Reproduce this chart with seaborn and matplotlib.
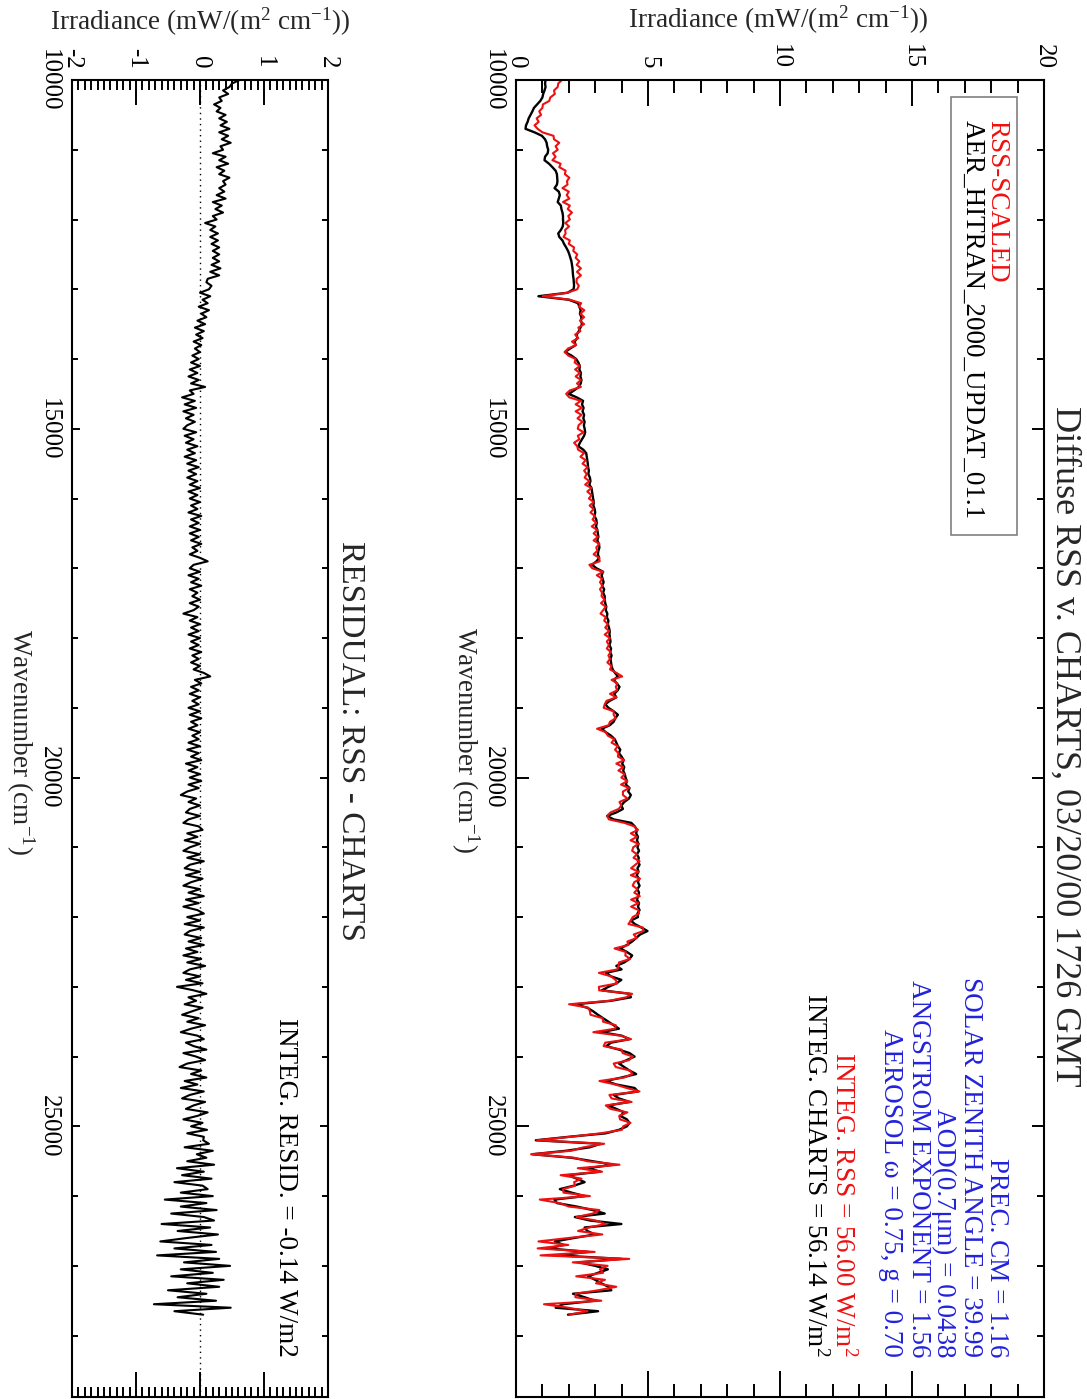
import numpy as np
import pandas as pd
import seaborn as sns
import matplotlib
matplotlib.use("Agg")
import matplotlib.pyplot as plt
from matplotlib.ticker import MultipleLocator
from matplotlib.patches import Rectangle

# Spectral grid (cm^-1), sampled every 50 cm^-1
wavenumber = np.arange(10000, 27701, 50)

# CHARTS (AER_HITRAN_2000_UPDAT_01.1) diffuse irradiance, mW/(m^2 cm^-1)
charts = [
    1.12, 1.10, 1.12, 1.08, 1.03, 1.00, 0.92, 0.80, 0.68, 0.62,
    0.55, 0.48, 0.44, 0.38, 0.36, 0.70, 0.98, 1.10, 1.16, 1.18,
    1.22, 1.20, 1.10, 1.08, 1.25, 1.38, 1.50, 1.55, 1.56, 1.57,
    1.55, 1.46, 1.62, 1.66, 1.62, 1.58, 1.70, 1.72, 1.76, 1.78,
    1.78, 1.79, 1.77, 1.70, 1.60, 1.64, 1.76, 1.82, 1.90, 1.97,
    2.02, 2.06, 2.10, 2.12, 2.14, 2.15, 2.16, 2.18, 2.19, 2.20,
    2.18, 1.95, 0.85, 2.00, 2.35, 2.40, 2.45, 2.42, 2.48, 2.46,
    2.50, 2.44, 2.38, 2.30, 2.32, 2.22, 2.26, 2.05, 1.85, 2.10,
    2.28, 2.36, 2.42, 2.40, 2.46, 2.44, 2.48, 2.45, 2.38, 2.20,
    2.00, 2.30, 2.54, 2.50, 2.56, 2.52, 2.58, 2.55, 2.60, 2.57,
    2.60, 2.62, 2.58, 2.50, 2.42, 2.36, 2.55, 2.66, 2.68, 2.70,
    2.72, 2.73, 2.76, 2.74, 2.80, 2.82, 2.78, 2.86, 2.88, 2.90,
    2.92, 2.95, 2.93, 2.98, 3.00, 2.97, 3.04, 3.06, 3.03, 3.08,
    3.10, 3.12, 3.08, 3.14, 3.16, 3.12, 3.10, 3.15, 3.05, 2.88,
    3.05, 3.30, 3.24, 3.28, 3.32, 3.26, 3.34, 3.30, 3.36, 3.36,
    3.38, 3.42, 3.40, 3.46, 3.44, 3.50, 3.48, 3.52, 3.55, 3.54,
    3.56, 3.58, 3.54, 3.60, 3.57, 3.62, 3.58, 3.60, 3.62, 3.66,
    3.75, 3.86, 3.70, 3.82, 3.92, 3.85, 3.72, 3.80, 3.55, 3.38,
    3.50, 3.70, 3.86, 3.76, 3.70, 3.55, 3.25, 3.40, 3.60, 3.74,
    3.80, 3.86, 3.95, 3.90, 4.00, 4.08, 4.02, 4.10, 4.06, 4.12,
    4.15, 4.20, 4.16, 4.30, 4.25, 4.35, 4.28, 4.10, 3.99, 4.05,
    3.80, 3.45, 3.70, 4.37, 4.50, 4.58, 4.55, 4.62, 4.58, 4.64,
    4.60, 4.66, 4.58, 4.65, 4.62, 4.68, 4.60, 4.64, 4.57, 4.66,
    4.62, 4.68, 4.60, 4.66, 4.63, 4.58, 4.66, 4.62, 4.68, 4.60,
    4.62, 4.35, 4.50, 4.75, 4.98, 4.70, 4.55, 4.40, 4.20, 3.95,
    4.20, 4.40, 4.30, 4.10, 3.80, 4.00, 3.40, 3.60, 3.99, 3.80,
    3.50, 3.25, 4.30, 4.35, 3.60, 2.25, 2.70, 2.92, 3.10, 3.30,
    3.50, 3.70, 3.90, 3.23, 4.00, 4.30, 3.60, 3.42, 3.90, 4.30,
    4.49, 4.20, 3.90, 4.10, 4.30, 4.55, 4.00, 3.40, 3.80, 4.49,
    4.62, 3.70, 3.90, 4.30, 3.50, 3.80, 4.10, 3.95, 4.20, 4.30,
    4.20, 3.90, 3.40, 2.00, 0.75, 3.20, 2.80, 1.90, 0.62, 2.10,
    2.90, 3.70, 2.70, 3.20, 1.97, 2.30, 2.60, 2.20, 1.66, 2.10,
    2.60, 1.45, 1.55, 2.30, 2.90, 3.36, 2.23, 2.80, 3.99, 2.60,
    2.70, 2.99, 2.20, 1.47, 1.80, 1.22, 2.73, 1.60, 3.99, 2.40,
    3.00, 3.48, 3.10, 2.73, 3.00, 3.23, 3.50, 3.61, 2.16, 2.60,
    2.98, 1.78, 1.50, 3.11, 1.97,
]

# Residual RSS - CHARTS, mW/(m^2 cm^-1)
resid = [
    0.62, 0.50, 0.46, 0.36, 0.44, 0.30, 0.34, 0.22, 0.32, 0.26,
    0.40, 0.30, 0.42, 0.32, 0.46, 0.30, 0.44, 0.34, 0.48, 0.32,
    0.36, 0.20, 0.40, 0.30, 0.44, 0.26, 0.38, 0.30, 0.46, 0.36,
    0.40, 0.30, 0.38, 0.26, 0.40, 0.20, 0.34, 0.24, 0.36, 0.20,
    0.26, 0.08, 0.24, 0.16, 0.28, 0.16, 0.28, 0.18, 0.30, 0.20,
    0.30, 0.20, 0.30, 0.18, 0.32, 0.16, 0.30, 0.12, 0.10, 0.18,
    0.14, 0.00, 0.16, 0.04, 0.12, -0.02, 0.14, 0.02, 0.10, -0.04,
    0.08, -0.08, 0.06, -0.06, 0.04, -0.10, 0.02, -0.08, 0.00, -0.12,
    -0.02, -0.14, 0.00, -0.16, -0.04, -0.18, -0.02, -0.14, 0.08, -0.16,
    -0.10, -0.28, -0.08, -0.24, -0.06, -0.26, -0.10, -0.22, -0.08, -0.20,
    -0.26, -0.06, -0.24, -0.10, -0.22, -0.04, -0.20, -0.08, -0.24, -0.06,
    -0.20, -0.02, -0.18, -0.06, -0.20, -0.04, -0.16, 0.00, -0.18, -0.04,
    -0.16, 0.00, -0.14, -0.04, -0.18, 0.02, -0.14, -0.02, -0.16, 0.00,
    -0.16, -0.02, -0.14, 0.02, -0.12, -0.04, -0.16, 0.00, 0.12, -0.10,
    -0.16, 0.00, -0.18, -0.02, -0.14, 0.02, -0.16, -0.04, -0.12, 0.00,
    -0.16, -0.02, -0.10, -0.26, -0.04, -0.16, 0.00, -0.14, -0.02, -0.18,
    0.00, -0.14, -0.02, -0.16, 0.02, -0.12, -0.02, -0.14, 0.00, -0.10,
    0.06, 0.16, -0.08, 0.02, -0.14, -0.02, -0.16, 0.00, -0.12, -0.02,
    -0.18, 0.00, -0.16, 0.02, -0.14, -0.04, -0.18, 0.00, -0.12, -0.02,
    -0.18, 0.00, -0.20, -0.02, -0.14, 0.02, -0.22, -0.04, -0.18, 0.00,
    -0.16, 0.02, -0.18, -0.02, -0.20, -0.30, -0.06, -0.18, 0.00, -0.16,
    -0.22, 0.00, -0.18, -0.26, -0.02, 0.04, -0.20, -0.04, -0.24, 0.00,
    -0.16, -0.26, 0.00, -0.20, 0.06, -0.16, -0.24, 0.00, -0.22, 0.04,
    -0.14, -0.26, 0.00, -0.18, 0.06, -0.22, -0.02, -0.26, -0.04, 0.06,
    -0.20, 0.00, -0.24, 0.06, -0.16, -0.24, 0.02, -0.18, 0.06, -0.22,
    -0.04, -0.26, 0.02, -0.20, 0.08, -0.16, -0.26, 0.00, -0.22, 0.04,
    -0.36, -0.10, 0.10, -0.18, -0.06, -0.24, 0.04, -0.12, -0.28, -0.02,
    -0.20, 0.08, -0.14, -0.30, -0.04, 0.06, -0.22, -0.10, 0.10, -0.26,
    -0.06, 0.08, -0.20, -0.32, 0.02, -0.14, 0.10, -0.24, -0.04, -0.30,
    0.06, -0.16, -0.28, 0.08, -0.10, -0.22, 0.12, -0.04, -0.26, 0.04,
    -0.14, 0.11, -0.20, 0.06, 0.05, 0.14, -0.24, 0.20, -0.05, 0.10,
    -0.20, 0.22, -0.36, 0.06, -0.28, 0.18, -0.40, 0.04, 0.12, -0.30,
    0.20, -0.55, 0.10, -0.30, 0.26, -0.45, 0.06, 0.22, -0.60, 0.16,
    -0.35, 0.28, -0.20, -0.62, 0.18, -0.40, 0.25, -0.67, 0.30, -0.25,
    0.47, -0.30, 0.20, -0.45, 0.37, -0.20, 0.30, -0.50, 0.10, -0.35,
    0.25, -0.72, 0.48, -0.40, 0.05,
]

# Scaled RSS measurement
rss = np.round(np.array(charts) + np.array(resid), 3)

info_lines = [
    "PREC. CM = 1.16",
    "SOLAR ZENITH ANGLE = 39.99",
    "AOD(0.7\u03bcm) = 0.0438",
    "ANGSTROM EXPONENT = 1.56",
    "AEROSOL \u03c9 = 0.75, g = 0.70",
]
integ_rss = "INTEG. RSS = 56.00 W/m$^2$"
integ_charts = "INTEG. CHARTS = 56.14 W/m$^2$"
integ_resid = "INTEG. RESID. = -0.14 W/m2"

RED = "#ee1010"
BLUE = "#2222dd"

sns.set_style("ticks")
plt.rcParams["font.family"] = ["Liberation Serif", "DejaVu Serif"]
plt.rcParams["mathtext.fontset"] = "custom"
plt.rcParams["mathtext.rm"] = "Liberation Serif"
plt.rcParams["mathtext.it"] = "Liberation Serif:italic"
plt.rcParams["mathtext.default"] = "regular"
plt.rcParams["axes.unicode_minus"] = False

W, H, DPI = 1087, 1399, 100
fig = plt.figure(figsize=(W / DPI, H / DPI), dpi=DPI)


def fx(x):
    return x / W


def fy(y):
    return 1 - y / H


TOP, BOT = 80, 1397
ax_main = fig.add_axes([fx(516), fy(BOT), (1044 - 516) / W, (BOT - TOP) / H])
ax_res = fig.add_axes([fx(72), fy(BOT), (328 - 72) / W, (BOT - TOP) / H])

df = pd.DataFrame({"wavenumber": wavenumber, "charts": charts,
                   "rss": rss, "resid": resid})

sns.lineplot(data=df, x="charts", y="wavenumber", orient="y", sort=False,
             estimator=None, color="black", lw=1.7, ax=ax_main)
sns.lineplot(data=df, x="rss", y="wavenumber", orient="y", sort=False,
             estimator=None, color=RED, lw=1.5, ax=ax_main)
sns.lineplot(data=df, x="resid", y="wavenumber", orient="y", sort=False,
             estimator=None, color="black", lw=1.5, ax=ax_res)
ax_res.axvline(0, color="black", lw=1.0, ls=(0, (1, 3)))


def style_axis(ax, xlim, xmajor, xminor, xlens, ylens):
    ax.set_xlim(*xlim)
    ax.set_ylim(28880, 10000)
    ax.xaxis.set_major_locator(MultipleLocator(xmajor))
    ax.xaxis.set_minor_locator(MultipleLocator(xminor))
    ax.yaxis.set_major_locator(MultipleLocator(5000))
    ax.yaxis.set_minor_locator(MultipleLocator(1000))
    ax.tick_params(axis="both", which="both", direction="in", width=1.4,
                   colors="black", labelsize=18)
    ax.tick_params(axis="x", which="both", top=True, bottom=True,
                   labeltop=True, labelbottom=False, labelrotation=-90, pad=8)
    ax.tick_params(axis="y", which="both", left=True, right=True,
                   labelleft=True, labelright=False, labelrotation=-90, pad=9)
    ax.tick_params(axis="x", which="major", length=xlens[0])
    ax.tick_params(axis="x", which="minor", length=xlens[1])
    ax.tick_params(axis="y", which="major", length=ylens[0])
    ax.tick_params(axis="y", which="minor", length=ylens[1])
    for lbl in ax.get_yticklabels():
        lbl.set_va("center")
    ax.set_xlabel("")
    ax.set_ylabel("")
    for s in ax.spines.values():
        s.set_visible(True)
        s.set_linewidth(1.5)
        s.set_color("black")


style_axis(ax_main, (0, 20), 5, 1, (19, 9.5), (9, 5))
style_axis(ax_res, (-2, 2), 1, 0.1, (18, 7.5), (6, 4))

# Axis titles
irr_label = "Irradiance (mW/(m$^2$ cm$^{-1}$))"
wn_label = "Wavenumber (cm$^{-1}$)"
fig.text(fx(778), fy(20), irr_label, ha="center", va="center", fontsize=19.5)
fig.text(fx(200), fy(22), irr_label, ha="center", va="center", fontsize=19.5)
fig.text(fx(465), fy(740), wn_label, rotation=-90, ha="center", va="center", fontsize=19.5)
fig.text(fx(20), fy(742), wn_label, rotation=-90, ha="center", va="center", fontsize=19.5)

fig.text(fx(1065), fy(746), "Diffuse RSS v. CHARTS, 03/20/00 1726 GMT",
         rotation=-90, ha="center", va="center", fontsize=26)
fig.text(fx(350), fy(741), "RESIDUAL: RSS - CHARTS",
         rotation=-90, ha="center", va="center", fontsize=24)

# Legend box
fig.add_artist(Rectangle((fx(951), fy(535)), 66 / W, 438 / H,
                         transform=fig.transFigure, fill=False,
                         edgecolor="#808080", lw=1.2))
fig.text(fx(997), fy(120), "RSS-SCALED", rotation=-90, ha="center", va="top",
         fontsize=19.5, color=RED)
fig.text(fx(972), fy(120), "AER_HITRAN_2000_UPDAT_01.1", rotation=-90,
         ha="center", va="top", fontsize=19.5, color="black")

# Model parameters and integrated values
for xpos, line in zip([996, 970, 944, 918, 891], info_lines):
    fig.text(fx(xpos), fy(1357), line, rotation=-90, ha="center", va="bottom",
             fontsize=19.5, color=BLUE)
fig.text(fx(843), fy(1357), integ_rss, rotation=-90, ha="center", va="bottom",
         fontsize=19.5, color=RED)
fig.text(fx(815), fy(1357), integ_charts, rotation=-90, ha="center", va="bottom",
         fontsize=19.5, color="black")
fig.text(fx(285), fy(1357), integ_resid, rotation=-90, ha="center", va="bottom",
         fontsize=19.5, color="black")

fig.savefig("out.png", dpi=DPI, facecolor="white")
